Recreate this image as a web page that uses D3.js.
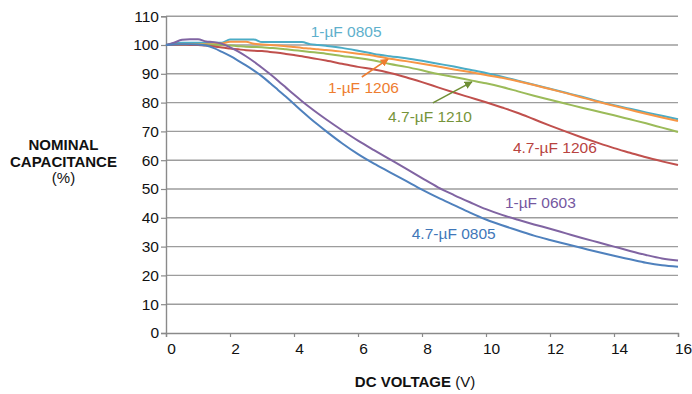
<!DOCTYPE html>
<html>
<head>
<meta charset="utf-8">
<script src="https://cdn.jsdelivr.net/npm/d3@7"></script>
<style>
	body { margin: 0; background: #fff; }
	svg { display: block; font-family: "Liberation Sans", Arial, sans-serif; }
	.tick text { font-size: 15.5px; fill: #111; }
</style>
</head>
<body>
<svg id="chart" width="692" height="394"></svg>
<script>
//=================== DATA ===================================================
var voltage = [0, 0.25, 0.5, 0.75, 1, 1.25, 1.5, 1.75, 2, 2.25, 2.5, 2.75, 3, 3.25, 3.5, 3.75, 4, 4.25, 4.5, 4.75, 5,
	5.5, 6, 6.5, 7, 7.5, 8, 8.5, 9, 9.5, 10, 10.5, 11, 11.5, 12, 12.5, 13, 13.5, 14, 14.5, 15, 15.5, 16];

var cap_1uF_0805 = [100, 100.6, 100.8, 100.8, 100.8, 100.8, 100.8, 100.8, 101.9, 101.9, 101.9, 101.9, 101, 101, 101, 101, 101, 101, 100.3, 100, 99.7,
	99.0, 98.0, 96.9, 96.1, 95.4, 94.5, 93.5, 92.5, 91.4, 90.3, 89.0, 87.6, 86.2, 84.8, 83.4, 82.0, 80.5, 79.1, 77.9, 76.6, 75.4, 74.2];

var cap_1uF_1206 = [100, 100, 100.2, 100.3, 100.3, 100.3, 100.3, 100.5, 101.1, 101.1, 101.1, 100.4, 100.2, 100.0, 99.8, 99.6, 99.3, 99.0, 98.8, 98.5, 98.3,
	97.7, 97.0, 96.3, 95.2, 94.4, 93.5, 92.5, 91.5, 90.6, 89.6, 88.6, 87.4, 86.1, 84.7, 83.3, 81.8, 80.3, 78.9, 77.5, 76.1, 74.8, 73.6];

var cap_47uF_1210 = [100, 100.1, 100.2, 100.2, 100.2, 100.1, 100.1, 100.0, 99.8, 99.6, 99.4, 99.3, 99.2, 99.0, 98.8, 98.5, 98.2, 97.9, 97.6, 97.3, 97.0,
	96.2, 95.5, 94.6, 93.4, 92.4, 91.2, 89.9, 88.9, 87.8, 86.7, 85.4, 83.9, 82.4, 81.0, 79.6, 78.2, 76.9, 75.6, 74.2, 72.8, 71.3, 69.8];

var cap_47uF_1206 = [100, 100.1, 100.1, 100.0, 100.0, 99.8, 99.5, 99.1, 98.8, 98.5, 98.2, 98.0, 97.9, 97.6, 97.3, 96.9, 96.5, 96.1, 95.6, 95.1, 94.6,
	93.5, 92.4, 91.5, 90.3, 88.8, 87.1, 85.3, 83.5, 81.8, 80.1, 78.3, 76.4, 74.2, 72.0, 69.9, 67.9, 66.0, 64.2, 62.6, 61.0, 59.6, 58.3];

var cap_1uF_0603 = [100, 100.8, 101.8, 102, 102, 101.2, 101, 100.4, 99.2, 97.8, 96.1, 94.2, 92.1, 89.9, 87.6, 85.2, 82.8, 80.5, 78.3, 76.2, 74.2,
	70.4, 66.8, 63.5, 60.3, 57.1, 53.8, 50.6, 47.9, 45.4, 43.0, 41.0, 39.3, 37.7, 36.2, 34.6, 33.0, 31.5, 30, 28.5, 27.1, 25.9, 25.2];

var cap_47uF_0805 = [100, 100.2, 100.3, 100.3, 100.2, 99.8, 98.9, 97.6, 96.2, 94.6, 92.9, 91.1, 89.1, 86.8, 84.4, 82, 79.5, 77.0, 74.6, 72.3, 70.1,
	65.9, 62.1, 58.8, 55.8, 52.8, 49.8, 47.0, 44.4, 41.8, 39.4, 37.4, 35.6, 33.8, 32.3, 30.9, 29.5, 28.1, 26.8, 25.6, 24.4, 23.5, 23];

var seriesNames = ["1-\u00b5F 0805", "1-\u00b5F 1206", "4.7-\u00b5F 1210", "4.7-\u00b5F 1206", "1-\u00b5F 0603", "4.7-\u00b5F 0805"];
var seriesValues = [cap_1uF_0805, cap_1uF_1206, cap_47uF_1210, cap_47uF_1206, cap_1uF_0603, cap_47uF_0805];

var xTickValues = [0, 2, 4, 6, 8, 10, 12, 14, 16];
var yTickValues = [0, 10, 20, 30, 40, 50, 60, 70, 80, 90, 100, 110];

//=================== STYLE ================================================
var lineColours  = ["#4bacc6", "#f79646", "#9bbb59", "#c0504d", "#8064a2", "#4f81bd"];
var labelColours = ["#5eb0cc", "#ee7d30", "#76943a", "#b8433f", "#7557a0", "#3f77b9"];
// label anchor (in data units: volts, %)
var labelPos = [[4.52, 102.9], [5.06, 83.2], [6.94, 73.4], [10.84, 62.4], [10.59, 43.3], [7.68, 32.5]];
// arrows for the two labels that sit away from their curves
var arrows = [
	{ from: [6.12, 88.9], to: [6.94, 95.1], colour: "#ee7d30" },
	{ from: [8.34, 79.9], to: [9.56, 87.2], colour: "#6f8f35" }
];

var svg = d3.select("#chart");

var x = d3.scaleLinear().domain([0, 16]).range([166, 678]);
var y = d3.scaleLinear().domain([0, 110]).range([333, 16.2]);

//gridlines
svg.append("g")
	.attr("class", "grid")
	.selectAll("line")
	.data(yTickValues.slice(1))
	.enter().append("line")
	.attr("x1", x(0)).attr("x2", x(16))
	.attr("y1", function(d){ return y(d); })
	.attr("y2", function(d){ return y(d); })
	.style("stroke", "#9d9d9d")
	.style("stroke-width", 1.4);

//y axis
var yAxis = svg.append("g")
	.attr("transform", "translate(" + x(0) + ",0)")
	.call(d3.axisLeft(y).tickValues(yTickValues).tickSize(5).tickPadding(2));
yAxis.select(".domain").attr("stroke", "#8a8a8a").attr("stroke-width", 1.4);
yAxis.selectAll(".tick line").attr("stroke", "#8a8a8a").attr("stroke-width", 1.2);

//x axis
var xAxis = svg.append("g")
	.attr("transform", "translate(0," + y(0) + ")")
	.call(d3.axisBottom(x).tickValues(xTickValues).tickSize(4).tickPadding(6));
xAxis.select(".domain").attr("stroke", "#8a8a8a").attr("stroke-width", 1.4);
xAxis.selectAll(".tick line").attr("stroke", "#8a8a8a").attr("stroke-width", 1.2);
xAxis.selectAll(".tick text").attr("dx", 5);

//curves
var lineGen = d3.line()
	.x(function(d, i){ return x(voltage[i]); })
	.y(function(d){ return y(d); })
	.curve(d3.curveMonotoneX);

svg.append("g")
	.selectAll("path")
	.data(seriesValues)
	.enter().append("path")
	.attr("d", lineGen)
	.style("fill", "none")
	.style("stroke", function(d, i){ return lineColours[i]; })
	.style("stroke-width", 2);

//curve labels
svg.append("g")
	.selectAll("text")
	.data(seriesNames)
	.enter().append("text")
	.attr("x", function(d, i){ return x(labelPos[i][0]); })
	.attr("y", function(d, i){ return y(labelPos[i][1]); })
	.style("font-size", "15.5px")
	.style("fill", function(d, i){ return labelColours[i]; })
	.text(function(d){ return d; });

//arrows
var defs = svg.append("defs");
arrows.forEach(function(a, i){
	defs.append("marker")
		.attr("id", "arrow" + i)
		.attr("viewBox", "0 0 10 10")
		.attr("refX", 9).attr("refY", 5)
		.attr("markerWidth", 5).attr("markerHeight", 5)
		.attr("orient", "auto")
		.append("path")
		.attr("d", "M0,0 L10,5 L0,10 z")
		.style("fill", a.colour);
	svg.append("line")
		.attr("x1", x(a.from[0])).attr("y1", y(a.from[1]))
		.attr("x2", x(a.to[0])).attr("y2", y(a.to[1]))
		.style("stroke", a.colour)
		.style("stroke-width", 1.6)
		.attr("marker-end", "url(#arrow" + i + ")");
});

//axis titles
var xTitle = svg.append("text")
	.attr("x", 415).attr("y", 387)
	.attr("text-anchor", "middle")
	.style("font-size", "15px")
	.style("fill", "#111");
xTitle.append("tspan").style("font-weight", "bold").text("DC VOLTAGE");
xTitle.append("tspan").text(" (V)");

var yTitle = svg.append("text")
	.attr("text-anchor", "middle")
	.style("font-size", "15px")
	.style("fill", "#111");
yTitle.append("tspan").attr("x", 63.5).attr("y", 150).style("font-weight", "bold").text("NOMINAL");
yTitle.append("tspan").attr("x", 63.5).attr("y", 166.5).style("font-weight", "bold").text("CAPACITANCE");
yTitle.append("tspan").attr("x", 63.5).attr("y", 182.5).text("(%)");
</script>
</body>
</html>
